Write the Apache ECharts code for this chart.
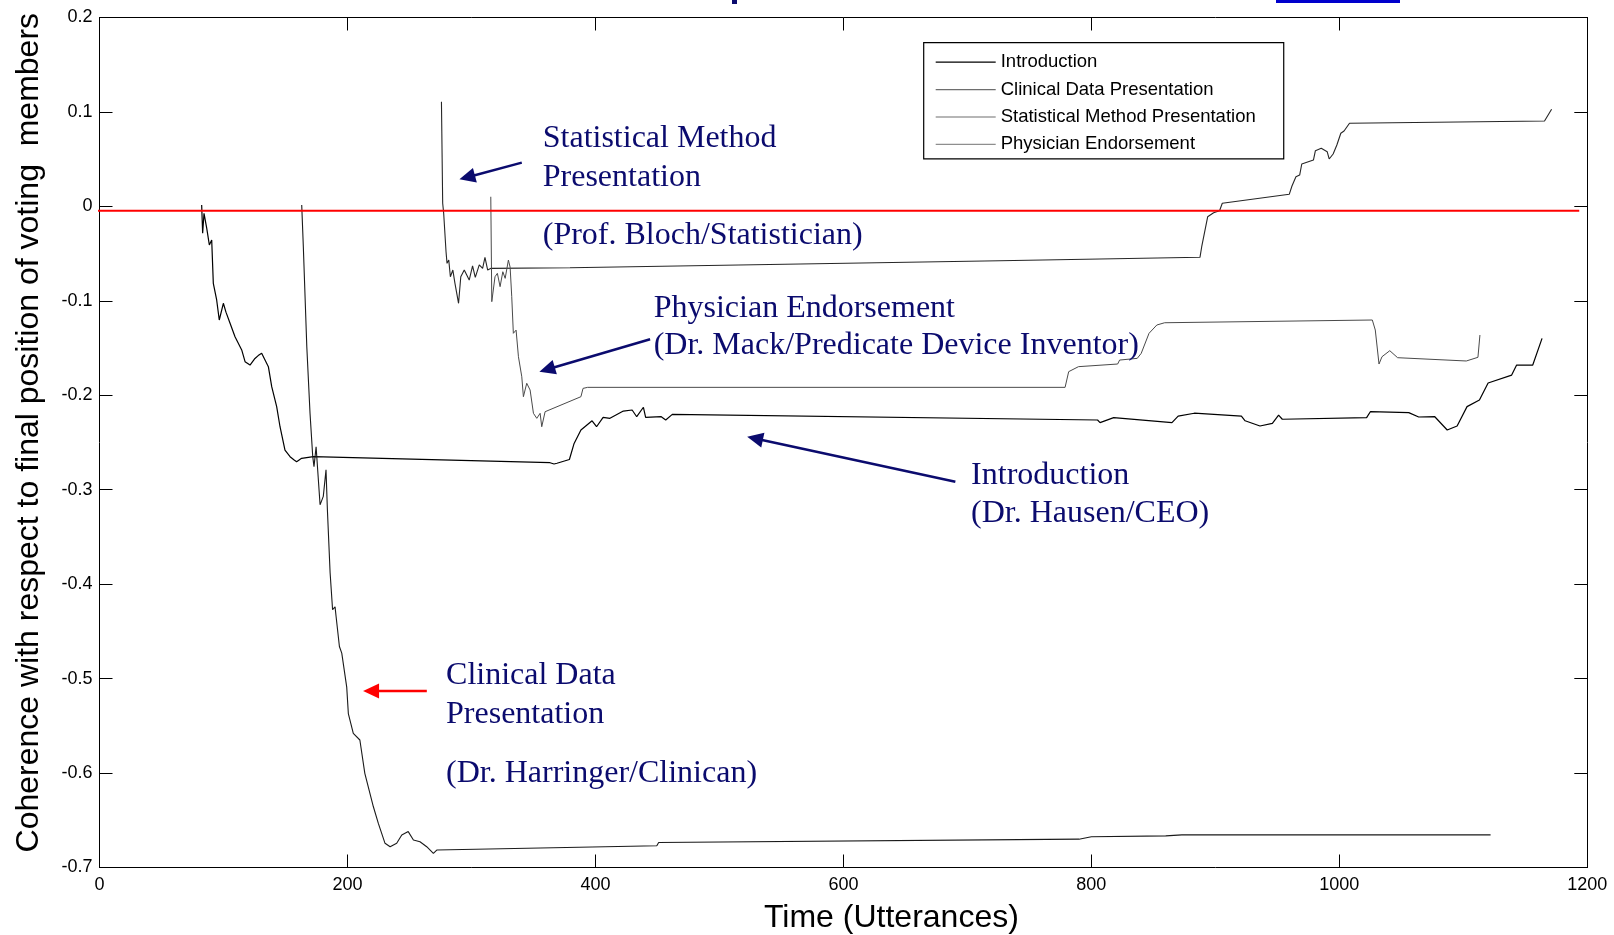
<!DOCTYPE html>
<html><head><meta charset="utf-8">
<script src="https://cdn.jsdelivr.net/npm/echarts@6/dist/echarts.min.js"></script>
<style>html,body{margin:0;padding:0;background:#fff}#c{width:1614px;height:935px}</style>
</head><body><div id="c"></div>
<script>
// ---------- data ----------
const seriesNames = ['Introduction', 'Clinical Data Presentation', 'Statistical Method Presentation', 'Physician Endorsement'];

const introduction = [[82.4,0.0015],[83.2,-0.0285],[84.3,-0.0073],[86.5,-0.0232],[88.6,-0.0409],[90.5,-0.0356],[91.8,-0.0815],[94.5,-0.0991],[96.6,-0.1203],[99.9,-0.1026],[102,-0.112],[105.3,-0.1238],[109.3,-0.138],[114.7,-0.152],[117.4,-0.1644],[121.4,-0.168],[125.4,-0.161],[128,-0.158],[130.8,-0.1556],[133.5,-0.1626],[136.2,-0.1697],[138.9,-0.1909],[142.9,-0.2121],[145.6,-0.2333],[149.6,-0.258],[153.7,-0.265],[157,-0.2685],[159,-0.2703],[163,-0.2668],[172.5,-0.265],[363.4,-0.2714],[366.6,-0.2728],[369,-0.272],[379,-0.268],[382.8,-0.251],[388.3,-0.2368],[397.3,-0.227],[400.9,-0.2333],[406.2,-0.2233],[411.7,-0.2244],[422.5,-0.2167],[429.6,-0.2156],[433.3,-0.2227],[438.7,-0.2127],[440.5,-0.2233],[453.1,-0.2227],[456.7,-0.2262],[462,-0.2202],[805,-0.2262],[807,-0.229],[818,-0.2237],[865,-0.229],[870,-0.222],[883,-0.219],[921,-0.222],[924,-0.227],[936,-0.2325],[946,-0.2297],[951,-0.221],[954,-0.2254],[1022,-0.2237],[1025,-0.2174],[1056,-0.2184],[1064,-0.223],[1077,-0.2227],[1087,-0.2368],[1095,-0.2325],[1103,-0.212],[1113,-0.205],[1120,-0.187],[1139,-0.1786],[1143,-0.168],[1156,-0.168],[1163.5,-0.1397]];

const clinicalData = [[163.1,0.0015],[164.4,-0.0427],[167.2,-0.1486],[169.8,-0.219],[172,-0.265],[173,-0.2756],[174.7,-0.2545],[175.2,-0.254],[177.9,-0.316],[180.5,-0.307],[182.7,-0.279],[183.8,-0.321],[186,-0.388],[188,-0.427],[190,-0.424],[190.8,-0.434],[193.5,-0.466],[195.4,-0.473],[199.4,-0.509],[200.7,-0.537],[204.7,-0.558],[210,-0.565],[214,-0.6003],[220.9,-0.6357],[224.9,-0.6533],[230.3,-0.6744],[234.4,-0.678],[239.7,-0.6744],[243.8,-0.6656],[249,-0.662],[253.2,-0.6709],[258.5,-0.6727],[263.9,-0.678],[269.3,-0.685],[272,-0.6815],[449.5,-0.677],[451,-0.6735],[790,-0.6700],[800,-0.6675],[860,-0.6665],[873,-0.6655],[1122,-0.6655]];

const statisticalMethod = [[275.8,0.1108],[276.8,0.0033],[277.6,-0.0073],[279.5,-0.048],[280.3,-0.0603],[281.7,-0.0568],[283,-0.0745],[285,-0.0674],[286.7,-0.0815],[289.6,-0.1026],[291.4,-0.0745],[294.2,-0.0674],[298.2,-0.078],[300.9,-0.0631],[303.1,-0.0751],[306.3,-0.062],[309,-0.0656],[310.9,-0.0539],[313.1,-0.0674],[315.8,-0.0656],[379.5,-0.065],[726,-0.0575],[887.6,-0.0539],[889,-0.0427],[893.8,-0.011],[898.6,-0.0067],[903.4,-0.0046],[905.6,0.0033],[959.6,0.0128],[961.8,0.0216],[965,0.0314],[968,0.0332],[969.7,0.0449],[979.1,0.0491],[980.7,0.059],[985.4,0.0615],[990.2,0.0579],[991.8,0.0502],[995,0.0555],[998,0.065],[1001.2,0.0774],[1003.8,0.0798],[1008.2,0.088],[1165.5,0.0904],[1171.2,0.1028]];

const physicianEndorsement = [[315.6,0.0102],[316.4,-0.1009],[319,-0.0745],[320.9,-0.0709],[323.1,-0.085],[325.3,-0.0692],[327.2,-0.0762],[329.8,-0.0568],[331.2,-0.0645],[332.5,-0.0956],[333.8,-0.1344],[336,-0.131],[337.9,-0.1592],[340.6,-0.1804],[341.9,-0.2015],[344.6,-0.1873],[347.3,-0.1944],[350,-0.2191],[352.7,-0.2244],[355.4,-0.2191],[356.7,-0.2333],[359.4,-0.2174],[388.3,-0.2015],[390,-0.1927],[393.7,-0.1916],[778.8,-0.1916],[781.7,-0.175],[789.6,-0.1697],[821.2,-0.1669],[822.8,-0.1627],[837,-0.1609],[840.2,-0.1556],[846.5,-0.1344],[852.8,-0.1256],[859.1,-0.1232],[1026.6,-0.1203],[1029,-0.1309],[1032,-0.1669],[1034.4,-0.1592],[1040.7,-0.1528],[1047,-0.1602],[1102.4,-0.1637],[1111.8,-0.1598],[1113.4,-0.1362]];

const referenceLine = [[-10,-0.0045],[1193.5,-0.0045]];

const xRange = [0, 1200, 200];     // min, max, interval
const yRange = [-0.7, 0.2, 0.1];

const xAxisTitle = 'Time (Utterances)';
const yAxisTitle = 'Coherence with respect to final position of voting  members';

const annotationTexts = [
  ['Statistical Method', 357.5, 0.0745],
  ['Presentation', 357.5, 0.0332],
  ['(Prof. Bloch/Statistician)', 357.5, -0.0287],
  ['Physician Endorsement', 447, -0.1055],
  ['(Dr. Mack/Predicate Device Inventor)', 447, -0.1452],
  ['Introduction', 703, -0.2828],
  ['(Dr. Hausen/CEO)', 703, -0.323],
  ['Clinical Data', 279.5, -0.4946],
  ['Presentation', 279.5, -0.535],
  ['(Dr. Harringer/Clinican)', 279.5, -0.5978]
];
const annotationArrows = [
  [[340.6, 0.0463], [290.3, 0.0287], 'navy'],
  [[444.1, -0.1407], [354.8, -0.175], 'navy'],
  [[690.3, -0.2915], [522.4, -0.2439], 'navy'],
  [[264, -0.5131], [212.6, -0.5131], 'red']
];

// ---------- chart ----------
const NAVY = '#0b0b6e';
const SANS = '"Liberation Sans", Arial, sans-serif';
const SERIF = '"Liberation Serif", "Times New Roman", serif';
const lineColors = ['#000000', '#1a1a1a', '#262626', '#4a4a4a'];
const lineWidths = [1.2, 1.1, 1.1, 1];
const legendColors = ['#000000', '#6e6e6e', '#6e6e6e', '#8e8e8e'];

const chart = echarts.init(document.getElementById('c'), null, {renderer: 'canvas'});

const axisCommon = {
  type: 'value', splitLine: {show: false},
  axisLine: {show: true, onZero: false, lineStyle: {color: '#000', width: 1}},
  axisTick: {show: true, inside: true, length: 13, lineStyle: {color: '#000', width: 1}}
};
const fmtY = v => String(Math.round(v * 10) / 10);
const fmtX = v => String(Math.round(v));

const seriesData = [introduction, clinicalData, statisticalMethod, physicianEndorsement];

const option = {
  animation: false,
  backgroundColor: '#fff',
  grid: {left: 99.5, right: 26.7, top: 17.5, bottom: 67.5, containLabel: false},
  xAxis: [
    Object.assign({}, axisCommon, {position: 'bottom', min: xRange[0], max: xRange[1], interval: xRange[2],
      axisLabel: {show: true, margin: 9, color: '#000', fontSize: 18, fontFamily: SANS, formatter: fmtX}}),
    Object.assign({}, axisCommon, {position: 'top', min: xRange[0], max: xRange[1], interval: xRange[2],
      axisLabel: {show: false}})
  ],
  yAxis: [
    Object.assign({}, axisCommon, {position: 'left', min: yRange[0], max: yRange[1], interval: yRange[2],
      axisLabel: {show: true, margin: 7, color: '#000', fontSize: 18, fontFamily: SANS, formatter: fmtY}}),
    Object.assign({}, axisCommon, {position: 'right', min: yRange[0], max: yRange[1], interval: yRange[2],
      axisLabel: {show: false}})
  ],
  legend: {
    orient: 'vertical', left: 923.7, top: 42.7,
    padding: [10, 28, 5, 12], itemGap: 8.4, itemWidth: 60, itemHeight: 1.2,
    icon: 'rect', borderColor: '#000', borderWidth: 1.2, backgroundColor: '#fff',
    textStyle: {fontSize: 18.5, fontFamily: SANS, color: '#000', lineHeight: 18},
    data: seriesNames.map((n, i) => ({name: n, itemStyle: {color: legendColors[i]}}))
  },
  series: seriesNames.map((n, i) => ({
    name: n, type: 'line', data: seriesData[i], symbol: 'none', showSymbol: false,
    lineStyle: {color: lineColors[i], width: lineWidths[i]}, itemStyle: {color: lineColors[i]}, z: 3
  })).concat([{
    name: 'zero', type: 'line', data: referenceLine, symbol: 'none', clip: false, silent: true,
    lineStyle: {color: '#ff0000', width: 2}, z: 4
  }])
};
chart.setOption(option);

// annotations placed in data coordinates
const graphics = [];
annotationTexts.forEach(([t, x, y]) => {
  const p = chart.convertToPixel({gridIndex: 0}, [x, y]);
  graphics.push({type: 'text', x: p[0], y: p[1] + 2.5, silent: true, z: 10,
    style: {text: t, font: '32px ' + SERIF, fill: NAVY, align: 'left', verticalAlign: 'middle'}});
});
annotationArrows.forEach(([a, b, c]) => {
  const p1 = chart.convertToPixel({gridIndex: 0}, a);
  const p2 = chart.convertToPixel({gridIndex: 0}, b);
  const col = c === 'red' ? '#ff0000' : NAVY;
  const dx = p2[0] - p1[0], dy = p2[1] - p1[1];
  const L = Math.sqrt(dx * dx + dy * dy);
  const ux = dx / L, uy = dy / L, nx = -uy, ny = ux;
  const hl = 16, hw = 7.5;
  const bx = p2[0] - ux * hl, by = p2[1] - uy * hl;
  graphics.push({type: 'line', silent: true, z: 10,
    shape: {x1: p1[0], y1: p1[1], x2: bx + ux * 2, y2: by + uy * 2},
    style: {stroke: col, lineWidth: 2.5}});
  graphics.push({type: 'polygon', silent: true, z: 10,
    shape: {points: [[p2[0], p2[1]], [bx + nx * hw, by + ny * hw], [bx - nx * hw, by - ny * hw]]},
    style: {fill: col}});
});
// axis titles
graphics.push({type: 'text', x: 891.4, y: 918, silent: true,
  style: {text: xAxisTitle, font: '32px ' + SANS, fill: '#000', align: 'center', verticalAlign: 'middle'}});
graphics.push({type: 'text', x: 29, y: 432.7, rotation: Math.PI / 2, silent: true,
  style: {text: yAxisTitle, font: '32px ' + SANS, fill: '#000', align: 'center', verticalAlign: 'middle'}});
// cropped title remnants at the very top
graphics.push({type: 'rect', silent: true, shape: {x: 1276, y: 0, width: 124, height: 3}, style: {fill: '#0000cc'}});
graphics.push({type: 'rect', silent: true, shape: {x: 732, y: 0, width: 5, height: 4}, style: {fill: NAVY}});

chart.setOption({graphic: graphics});
</script>
</body></html>
